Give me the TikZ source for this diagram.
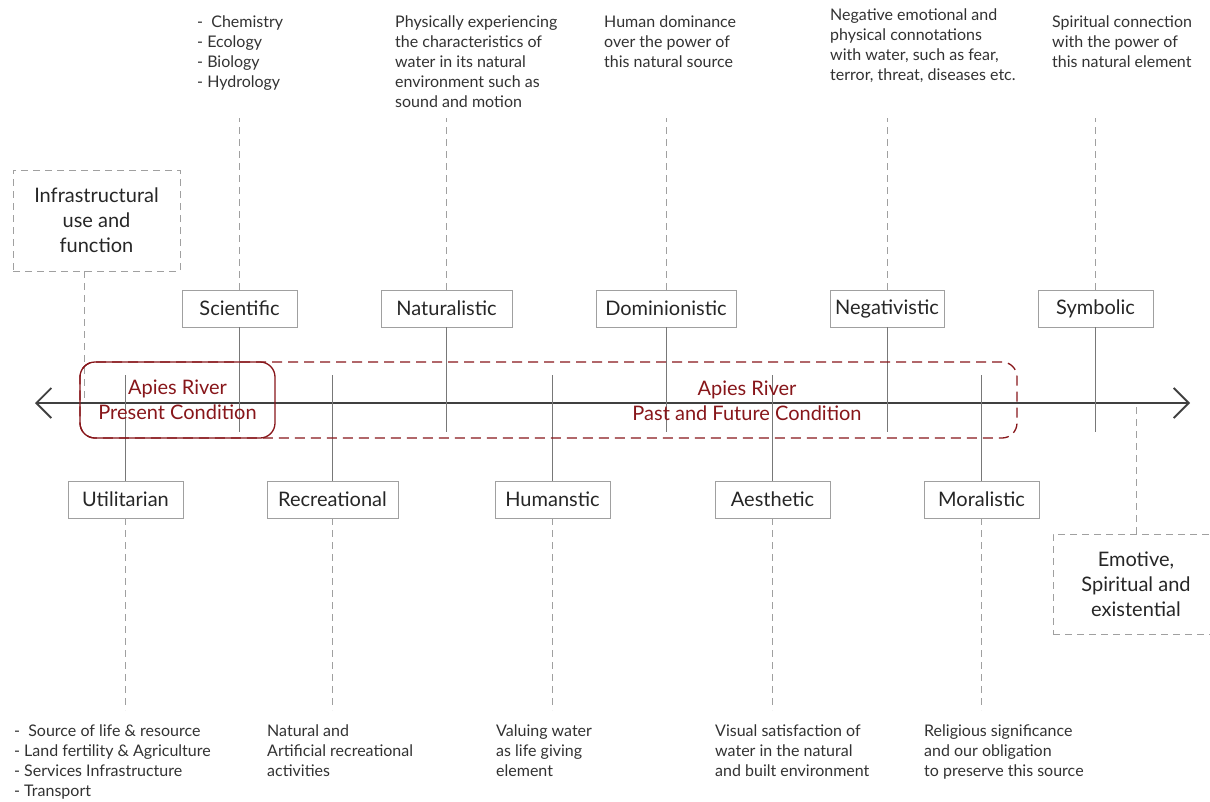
\documentclass[tikz,border=0pt]{standalone}
\usepackage{fontspec}
\setmainfont{Lato}
\usetikzlibrary{positioning}
\usetikzlibrary{arrows.meta}
\definecolor{rivred}{RGB}{135,22,26}
\definecolor{boxgray}{RGB}{160,160,160}
\definecolor{linegray}{RGB}{120,120,120}
\definecolor{textgray}{RGB}{50,50,50}

\begin{document}
\begin{tikzpicture}
	[
		x = 1pt, y = -1pt,
		mybox/.style = {draw = boxgray, rectangle, minimum height = 37pt, minimum width = 115pt, inner sep = 0pt, text = black!85, font = \fontsize{20}{25}\selectfont},
		mydashbox/.style = {draw = boxgray, rectangle, dash pattern = on 7pt off 5pt, align = center, text = black!85, font = \fontsize{20}{25}\selectfont},
		mytext/.style = {anchor = north west, align = left, inner sep = 0pt, text = textgray, font = \fontsize{16}{20}\selectfont},
		myriver/.style = {draw = rivred, rectangle, rounded corners = 15pt, minimum height = 76pt, line width = 1.3pt},
		myrivertext/.style = {align = center, text = rivred, font = \fontsize{20}{25}\selectfont},
		mysolid/.style = {linegray, line width = 1pt},
		mydashed/.style = {boxgray, line width = 1pt, dash pattern = on 7pt off 5pt},
		myarrow/.style = {black!75, line width = 1.2pt, {Straight Barb[length = 15pt, width = 30pt, line width = 1.8pt]}-{Straight Barb[length = 15pt, width = 30pt, line width = 1.8pt]}}
	]
	\useasboundingbox (0,0) rectangle (1210,801);
	%
	\coordinate (axisleft) at (35,403);
	\coordinate (axisright) at (1190,403);
	\draw [myarrow] (axisleft) -- (axisright);
	%
	% upper values
	\node (scientific) [mybox] at (239.5,308.5) {Scientific};
	\node (naturalistic) [mybox, minimum width = 131pt] at (446.5,308.5) {Naturalistic};
	\node (dominionistic) [mybox, minimum width = 140pt] at (666,308.5) {Dominionistic};
	\node (negativistic) [mybox, minimum width = 114pt] at (887,308.5) {Negativistic};
	\node (symbolic) [mybox] at (1095.5,308.5) {Symbolic};
	\foreach \n in {scientific, naturalistic, dominionistic, negativistic, symbolic}
	{
		\draw [mydashed] (\n.north) -- ++(0,-172);
		\draw [mysolid] (\n.south) -- ++(0,105);
	}
	%
	% lower values
	\node (utilitarian) [mybox] at (125.5,499.5) {Utilitarian};
	\node (recreational) [mybox, minimum width = 131pt] at (332.5,499.5) {Recreational};
	\node (humanstic) [mybox] at (552.5,499.5) {Humanstic};
	\node (aesthetic) [mybox] at (772.5,499.5) {Aesthetic};
	\node (moralistic) [mybox] at (981.5,499.5) {Moralistic};
	\foreach \n in {utilitarian, recreational, humanstic, aesthetic, moralistic}
	{
		\draw [mysolid] (\n.north) -- ++(0,-106);
		\draw [mydashed] (\n.south) -- ++(0,192);
	}
	%
	% groups
	\node (infrastructural) [mydashbox, minimum width = 167pt, minimum height = 101pt] at (96.5,220.5) {Infrastructural\\use and\\function};
	\coordinate (infrafoot) at (84,403);
	\draw [mydashed] (infrafoot |- infrastructural.south) -- (infrafoot);
	%
	\node (emotive) [mydashbox, minimum width = 166pt, minimum height = 100pt] at (1136,584) {Emotive,\\Spiritual and\\existential};
	\draw [mydashed] (emotive.north) -- (emotive.north |- axisright);
	%
	% river condition
	\node (pastfuture) [myriver, dash pattern = on 10pt off 6pt, minimum width = 937pt] at (548.5,400) {};
	\node (pastfuturetext) [myrivertext] at (747,400.5) {Apies River\\Past and Future Condition};
	\node (present) [myriver, minimum width = 195pt, myrivertext] at (177.5,400) {Apies River\\Present Condition};
	%
	% descriptions
	\node (scientifictext) [mytext] at (197,16) {-\ \ Chemistry\\- Ecology\\- Biology\\- Hydrology};
	\node (naturalistictext) [mytext] at (395,16) {Physically experiencing\\the characteristics of\\water in its natural\\environment such as\\sound and motion};
	\node (dominionistictext) [mytext] at (604,16) {Human dominance\\over the power of\\this natural source};
	\node (negativistictext) [mytext] at (830,9) {Negative emotional and\\physical connotations\\with water, such as fear,\\terror, threat, diseases etc.};
	\node (symbolictext) [mytext] at (1052,16) {Spiritual connection\\with the power of\\this natural element};
	%
	\node (utilitariantext) [mytext] at (14,725) {-\ \ Source of life \& resource\\- Land fertility \& Agriculture\\- Services Infrastructure\\- Transport};
	\node (recreationaltext) [mytext] at (267,725) {Natural and\\Artificial recreational\\activities};
	\node (humanstictext) [mytext] at (496,725) {Valuing water\\as life giving\\element};
	\node (aesthetictext) [mytext] at (715,725) {Visual satisfaction of\\water in the natural\\and built environment};
	\node (moralistictext) [mytext] at (924,725) {Religious significance\\and our obligation\\to preserve this source};
	%
\end{tikzpicture}
\end{document}
